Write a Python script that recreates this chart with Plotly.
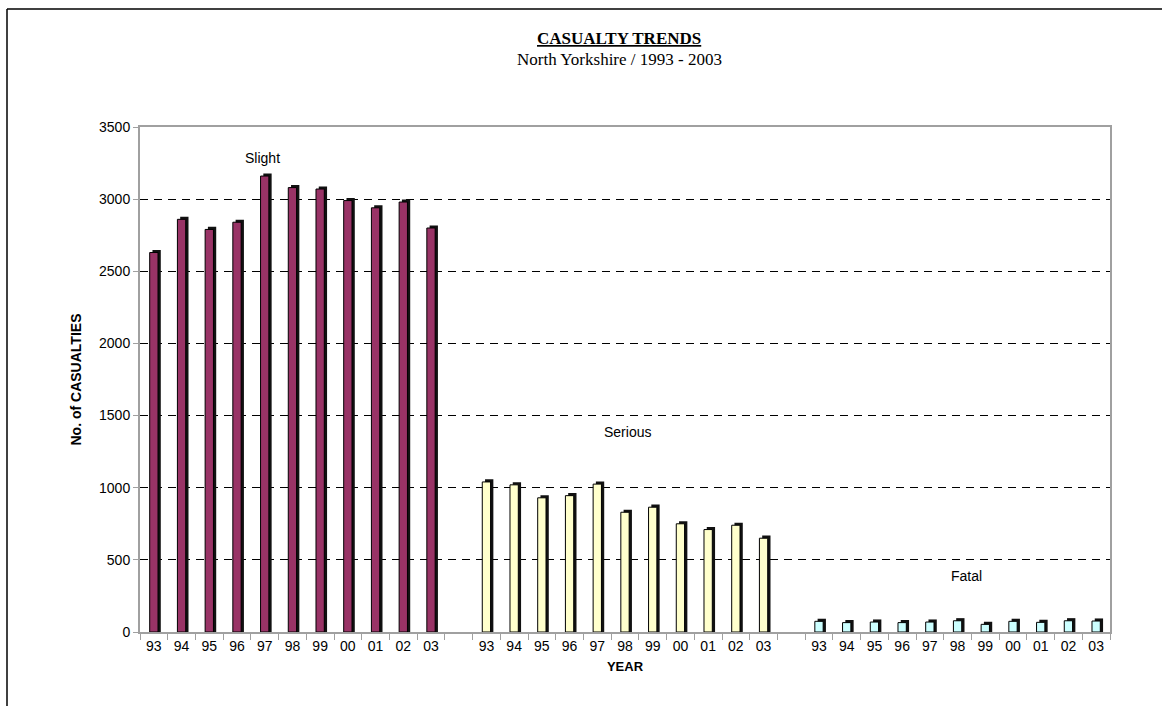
import plotly.graph_objects as go

years = ["93", "94", "95", "96", "97", "98", "99", "00", "01", "02", "03"]
slight = [2630, 2860, 2790, 2840, 3160, 3080, 3070, 2990, 2940, 2980, 2800]
serious = [1040, 1020, 930, 945, 1025, 830, 865, 750, 710, 740, 650]
fatal = [74, 65, 69, 65, 69, 78, 53, 74, 67, 78, 76]
group_names = ["Slight", "Serious", "Fatal"]
colors = ["#993366", "#FFFFCC", "#CCFFFF"]

groups = [slight, serious, fatal]
n = len(years)
fig = go.Figure()

tickvals, ticktext = [], []
for g, vals in enumerate(groups):
    start = g * (n + 1)
    xs = [start + i for i in range(n)]
    tickvals += xs
    ticktext += years
    # dark side / top for 3D look
    fig.add_trace(go.Bar(
        x=[x + 0.1 for x in xs], y=[v + 18 for v in vals], width=0.3,
        marker=dict(color="#111111", line=dict(width=0)),
        hoverinfo="skip", showlegend=False))
    fig.add_trace(go.Bar(
        x=xs, y=vals, width=0.3, name=group_names[g],
        marker=dict(color=colors[g], line=dict(color="black", width=1)),
        showlegend=False))

L, R, T, B = 140, 52, 127, 74
W, H = 1162, 706
pw, ph = W - L - R, H - T - B

def px(xp):
    return (xp - L) / pw

def py(yp):
    return (H - B - yp) / ph

def ann(text, x, y, size, family=None):
    f = dict(size=size)
    if family:
        f["family"] = family
    return dict(text=text, x=px(x), y=py(y), xref="paper", yref="paper",
                xanchor="center", yanchor="middle", showarrow=False, font=f)

serif = "Liberation Serif, Times New Roman, serif"

fig.update_layout(
    width=W, height=H, barmode="overlay",
    margin=dict(l=L, r=R, t=T, b=B),
    paper_bgcolor="white", plot_bgcolor="white",
    font=dict(family="Liberation Sans, Arial, sans-serif", size=14, color="black"),
    xaxis=dict(
        range=[-0.5, 3 * n + 1.5], tickmode="array", tickvals=tickvals, ticktext=ticktext,
        ticks="", showgrid=False, zeroline=False,
        showline=True, linecolor="#a0a0a0", linewidth=2, mirror=True,
        tickfont=dict(size=14),
        minor=dict(tick0=-0.5, dtick=1, ticks="outside", ticklen=6, tickcolor="#a0a0a0", tickwidth=1, showgrid=False),
        title=dict(text="<b>YEAR</b>", font=dict(size=13), standoff=9),
    ),
    yaxis=dict(
        range=[0, 3500], tickmode="linear", tick0=0, dtick=500,
        ticks="outside", ticklen=5, tickcolor="#a0a0a0",
        showgrid=True, gridcolor="black", gridwidth=1, griddash="8px,6px",
        zeroline=False, showline=True, linecolor="#a0a0a0", linewidth=2, mirror=True,
        tickfont=dict(size=14),
        title=dict(text="<b>No. of CASUALTIES</b>", font=dict(size=14), standoff=14),
    ),
    annotations=[
        ann("<b><u>CASUALTY TRENDS</u></b>", 619, 38, 17, serif),
        ann("North Yorkshire / 1993 - 2003", 619, 59, 17, serif),
        ann("Slight", 262, 158, 14),
        ann("Serious", 627, 432, 14),
        ann("Fatal", 966, 576, 14),
    ],
    shapes=[
        dict(type="line", xref="paper", yref="paper", x0=px(7), y0=py(9), x1=px(1162), y1=py(9),
             line=dict(color="black", width=1.5)),
        dict(type="line", xref="paper", yref="paper", x0=px(7), y0=py(9), x1=px(7), y1=py(706),
             line=dict(color="black", width=1.5)),
    ],
)

fig.write_html("out.html")
